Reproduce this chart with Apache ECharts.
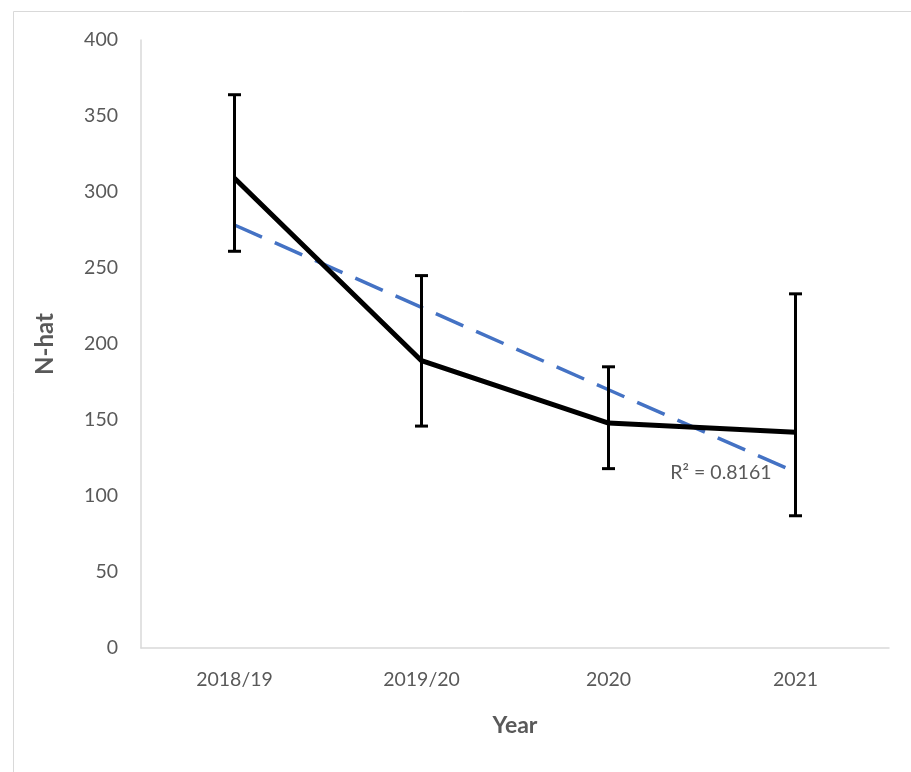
<!DOCTYPE html>
<html>
<head>
<meta charset="utf-8">
<script src="https://cdn.jsdelivr.net/npm/echarts@6/dist/echarts.min.js"></script>
<style>html,body{margin:0;padding:0;background:#fff}#c{width:911px;height:772px}</style>
</head>
<body>
<div id="c"></div>
<script>
const categories = ['2018/19', '2019/20', '2020', '2021'];
const nhat = [309, 189, 148, 142];
const errUpper = [364, 245, 185, 233];
const errLower = [261, 146, 118, 87];
const yTicks = [0, 50, 100, 150, 200, 250, 300, 350, 400];
const r2Label = 'R² = 0.8161';

// linear trendline (least squares over category index)
const n = nhat.length;
const xs = nhat.map((_, i) => i + 1);
const mx = xs.reduce((a, b) => a + b, 0) / n;
const my = nhat.reduce((a, b) => a + b, 0) / n;
let sxy = 0, sxx = 0;
for (let i = 0; i < n; i++) { sxy += (xs[i] - mx) * (nhat[i] - my); sxx += (xs[i] - mx) ** 2; }
const slope = sxy / sxx;
const trend = xs.map(x => my + slope * (x - mx));

const font = 'Lato, "Noto Sans", sans-serif';
const chart = echarts.init(document.getElementById('c'));
chart.setOption({
  animation: false,
  backgroundColor: '#fff',
  graphic: [{
    type: 'rect', left: 11, top: 9, z: -1,
    shape: { width: 920, height: 780 },
    style: { fill: 'none', stroke: '#d9d9d9', lineWidth: 1 }
  }],
  grid: { left: 141, top: 40, right: 22, bottom: 124 },
  xAxis: {
    type: 'category', data: categories,
    axisLine: { lineStyle: { color: '#d9d9d9', width: 1.5 } },
    axisTick: { show: false },
    axisLabel: { color: '#595959', fontSize: 19.5, fontFamily: font, margin: 22 },
    name: 'Year', nameLocation: 'middle', nameGap: 66,
    nameTextStyle: { color: '#595959', fontSize: 23, fontWeight: 'bold', fontFamily: font }
  },
  yAxis: {
    type: 'value', min: yTicks[0], max: yTicks[yTicks.length - 1], interval: 50,
    axisLine: { show: true, lineStyle: { color: '#d9d9d9', width: 1.5 } },
    axisTick: { show: false },
    splitLine: { show: false },
    axisLabel: { color: '#595959', fontSize: 19.5, fontFamily: font, margin: 23 },
    name: 'N-hat', nameLocation: 'middle', nameGap: 84,
    nameTextStyle: { color: '#595959', fontSize: 24, fontWeight: 'bold', fontFamily: font }
  },
  series: [
    {
      type: 'line', data: trend, symbol: 'none', z: 2,
      lineStyle: { color: '#4472C4', width: 3.5, type: [30, 14] },
      markPoint: {
        symbol: 'circle', symbolSize: 0,
        data: [{ coord: [n - 1, trend[n - 1]] }],
        label: {
          show: true, formatter: r2Label, position: 'left', distance: 0,
          offset: [-24, 1], color: '#595959', fontSize: 19.5, fontFamily: font
        }
      }
    },
    {
      type: 'line', data: nhat, symbol: 'none', z: 3,
      lineStyle: { color: '#000', width: 5 }
    },
    {
      type: 'custom', z: 4,
      data: categories.map((c, i) => [i, errLower[i], errUpper[i]]),
      renderItem: function (params, api) {
        const lo = api.coord([api.value(0), api.value(1)]);
        const hi = api.coord([api.value(0), api.value(2)]);
        const w = 6.5;
        const st = { stroke: '#000', lineWidth: 3 };
        return {
          type: 'group', children: [
            { type: 'line', shape: { x1: hi[0], y1: hi[1], x2: lo[0], y2: lo[1] }, style: st },
            { type: 'line', shape: { x1: hi[0] - w, y1: hi[1], x2: hi[0] + w, y2: hi[1] }, style: st },
            { type: 'line', shape: { x1: lo[0] - w, y1: lo[1], x2: lo[0] + w, y2: lo[1] }, style: st }
          ]
        };
      }
    }
  ]
});
</script>
</body>
</html>
